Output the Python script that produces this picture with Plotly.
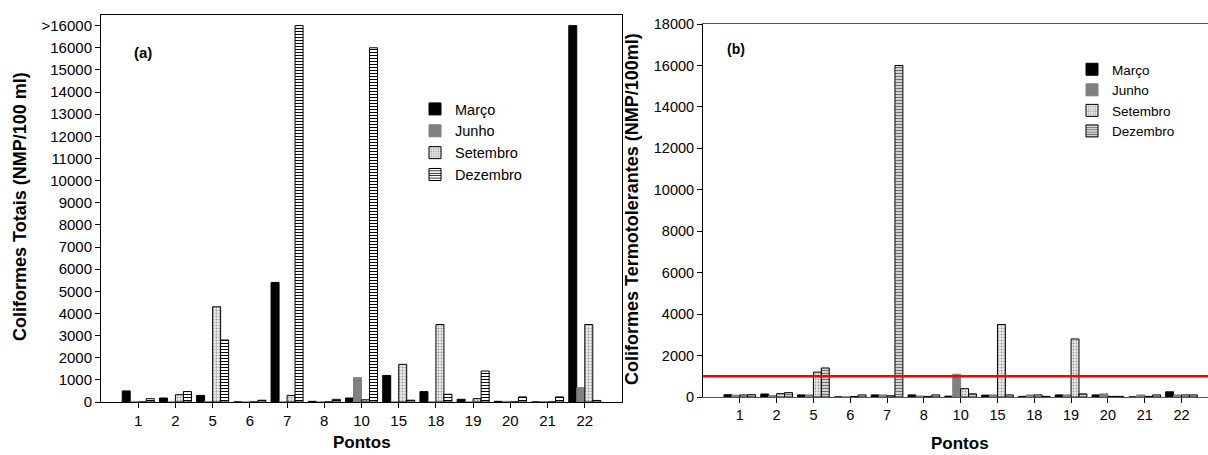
import plotly.graph_objects as go

# Sampling points (categories on the x axis)
pontos = ["1", "2", "5", "6", "7", "8", "10", "15", "18", "19", "20", "21", "22"]
meses = ["Março", "Junho", "Setembro", "Dezembro"]

# (a) Coliformes totais, NMP/100 ml  (17000 stands for ">16000")
totais_marco = [500, 180, 300, 0, 5400, 30, 180, 1200, 470, 120, 30, 0, 17000]
totais_junho = [0, 0, 20, 0, 0, 0, 1100, 0, 0, 0, 30, 20, 650]
totais_setembro = [0, 330, 4300, 0, 300, 0, 100, 1700, 3500, 150, 0, 0, 3500]
totais_dezembro = [150, 470, 2800, 80, 17000, 120, 16000, 80, 350, 1400, 230, 230, 70]

# (b) Coliformes termotolerantes, NMP/100 ml
termo_marco = [110, 145, 100, 0, 100, 100, 40, 90, 30, 100, 100, 0, 250]
termo_junho = [90, 70, 100, 0, 100, 50, 1100, 100, 100, 100, 150, 100, 100]
termo_setembro = [100, 160, 1200, 20, 60, 30, 400, 3500, 100, 2800, 30, 30, 100]
termo_dezembro = [110, 210, 1400, 100, 16000, 100, 150, 100, 30, 150, 30, 100, 100]

# Legal limit for thermotolerant coliforms
LIMITE = 1000

# y-axis ticks for panel (a)
ticks_a = list(range(0, 17001, 1000))
ticktext_a = [str(v) for v in range(0, 16001, 1000)] + [">16000"]

FONT = "Liberation Sans, Arial, sans-serif"

# fill styles per month
estilos_a = {
    "Março": dict(color="black", line=dict(color="black", width=1)),
    "Junho": dict(color="#808080", line=dict(color="#808080", width=1)),
    "Setembro": dict(color="#e2e2e2", line=dict(color="black", width=1),
                     pattern=dict(shape=".", fillmode="replace", bgcolor="#ececec",
                                  fgcolor="#9a9a9a", size=3, solidity=0.3)),
    "Dezembro": dict(color="white", line=dict(color="black", width=1),
                     pattern=dict(shape="-", fillmode="replace", bgcolor="white",
                                  fgcolor="black", size=3, solidity=0.35)),
}
estilos_b = {
    "Março": estilos_a["Março"],
    "Junho": estilos_a["Junho"],
    "Setembro": estilos_a["Setembro"],
    "Dezembro": dict(color="#d0d0d0", line=dict(color="black", width=1),
                     pattern=dict(shape="-", fillmode="replace", bgcolor="#e8e8e8",
                                  fgcolor="#707070", size=3, solidity=0.45)),
}

series_a = [totais_marco, totais_junho, totais_setembro, totais_dezembro]
series_b = [termo_marco, termo_junho, termo_setembro, termo_dezembro]

fig = go.Figure()
for mes, vals in zip(meses, series_a):
    fig.add_trace(go.Bar(x=pontos, y=vals, name=mes, marker=estilos_a[mes],
                         xaxis="x", yaxis="y", legend="legend"))
for mes, vals in zip(meses, series_b):
    fig.add_trace(go.Bar(x=pontos, y=vals, name=mes, marker=estilos_b[mes],
                         xaxis="x2", yaxis="y2", legend="legend2"))

W, H = 1208, 455

def px_x(p):
    return p / W

def px_y(p):
    return 1 - p / H

axis_common = dict(showgrid=False, zeroline=False, showline=True, linecolor="black",
                   linewidth=1, ticks="outside", ticklen=5, tickcolor="black",
                   automargin=False,
                   tickfont=dict(family=FONT, size=15, color="black"))

fig.update_layout(
    template="none",
    width=W, height=H, autosize=False,
    margin=dict(l=0, r=0, t=0, b=0, pad=0, autoexpand=False),
    paper_bgcolor="white", plot_bgcolor="white",
    barmode="group", bargap=0.14, bargroupgap=0,
    font=dict(family=FONT, color="black"),
    xaxis=dict(axis_common, domain=[px_x(101), px_x(622)], anchor="y",
               type="category", range=[-1, 13], mirror=True),
    yaxis=dict(axis_common, domain=[px_y(402), px_y(15)], anchor="x",
               range=[0, 17480], tickvals=ticks_a, ticktext=ticktext_a, mirror=True),
    xaxis2=dict(axis_common, domain=[px_x(703), 1.0], anchor="y2",
                type="category", range=[-1, 12.72], mirror=True,
                linecolor="#555555", tickfont=dict(family=FONT, size=14.5, color="black")),
    yaxis2=dict(axis_common, domain=[px_y(397), px_y(24)], anchor="x2",
                range=[0, 18000], dtick=2000, tickformat="d",
                tickfont=dict(family=FONT, size=14.5, color="black")),
    legend=dict(x=px_x(415), y=px_y(93), xanchor="left", yanchor="top",
                bgcolor="rgba(0,0,0,0)", borderwidth=0,
                font=dict(family=FONT, size=14.5, color="black"), tracegroupgap=0),
    legend2=dict(x=px_x(1072), y=px_y(54), xanchor="left", yanchor="top",
                 bgcolor="rgba(0,0,0,0)", borderwidth=0,
                 font=dict(family=FONT, size=13.5, color="black"), tracegroupgap=0),
    showlegend=True,
)

# limit line on panel (b)
fig.add_shape(type="line", xref="x2 domain", yref="y2", x0=0, x1=1,
              y0=LIMITE, y1=LIMITE, line=dict(color="#ff0000", width=2.5))

bold = lambda s: f"<b>{s}</b>"
anots = [
    dict(text=bold("(a)"), x=px_x(143), y=px_y(52), size=15, angle=0, ya="middle"),
    dict(text=bold("(b)"), x=px_x(736), y=px_y(49), size=14, angle=0, ya="middle"),
    dict(text=bold("Coliformes Totais (NMP/100 ml)"), x=px_x(20), y=px_y(207), size=18, angle=-90, ya="middle"),
    dict(text=bold("Coliformes Termotolerantes (NMP/100ml)"), x=px_x(632), y=px_y(209), size=18, angle=-90, ya="middle"),
    dict(text=bold("Pontos"), x=px_x(362), y=px_y(454), size=17, angle=0, ya="bottom"),
    dict(text=bold("Pontos"), x=px_x(960), y=px_y(443), size=17, angle=0, ya="middle"),
]
for a in anots:
    fig.add_annotation(text=a["text"], x=a["x"], y=a["y"], xref="paper", yref="paper",
                       xanchor="center", yanchor=a["ya"], showarrow=False,
                       textangle=a["angle"], font=dict(family=FONT, size=a["size"], color="black"))

fig.write_html("out.html")
